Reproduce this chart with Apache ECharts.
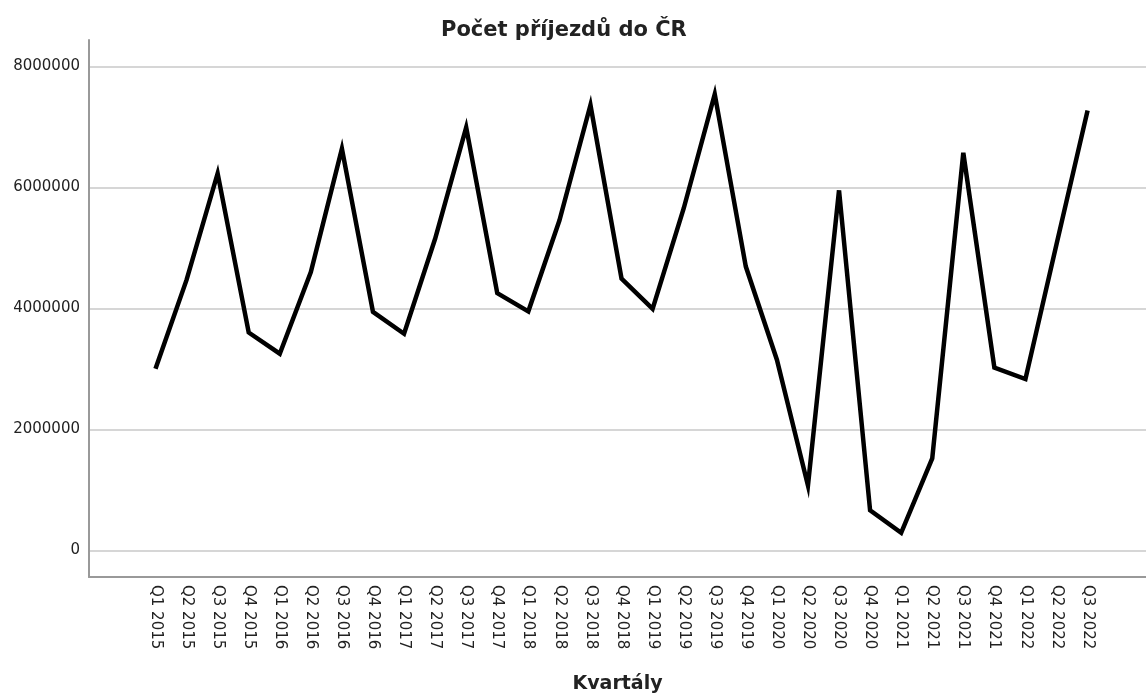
<!DOCTYPE html>
<html>
<head>
<meta charset="utf-8">
<script src="https://cdn.jsdelivr.net/npm/echarts@6/dist/echarts.min.js"></script>
<style>html,body{margin:0;padding:0;background:#fff}#c{width:1146px;height:693px}</style>
</head>
<body>
<div id="c"></div>
<script>
const categories = ['Q1 2015','Q2 2015','Q3 2015','Q4 2015','Q1 2016','Q2 2016','Q3 2016','Q4 2016','Q1 2017','Q2 2017','Q3 2017','Q4 2017','Q1 2018','Q2 2018','Q3 2018','Q4 2018','Q1 2019','Q2 2019','Q3 2019','Q4 2019','Q1 2020','Q2 2020','Q3 2020','Q4 2020','Q1 2021','Q2 2021','Q3 2021','Q4 2021','Q1 2022','Q2 2022','Q3 2022'];
const arrivals = [3000000,4470000,6230000,3600000,3250000,4600000,6640000,3940000,3580000,5150000,6990000,4250000,3950000,5450000,7360000,4490000,3990000,5650000,7540000,4690000,3150000,1070000,5950000,660000,290000,1520000,6570000,3020000,2830000,5060000,7270000];
const yTicks = [0,2000000,4000000,6000000,8000000];
const titleText = 'Počet příjezdů do ČR';
const xName = 'Kvartály';

const chart = echarts.init(document.getElementById('c'), null, {renderer:'canvas'});
const xIdx = categories.map((c,i)=>i);
chart.setOption({
  animation:false,
  title:{text:titleText,left:436,top:15,textStyle:{fontFamily:'DejaVu Sans',fontWeight:'bold',fontSize:21,color:'#222'}},
  grid:{left:89,right:0,top:40,bottom:116,containLabel:false,outerBoundsMode:'none'},
  xAxis:{
    type:'value',min:-2.14,max:31.88,
    name:xName,nameLocation:'middle',nameGap:98,
    nameTextStyle:{fontFamily:'DejaVu Sans',fontWeight:'bold',fontSize:19,color:'#222'},
    axisLine:{show:true,onZero:false,lineStyle:{color:'#999',width:2}},
    axisTick:{show:false,customValues:xIdx},
    splitLine:{show:false},
    axisLabel:{customValues:xIdx,rotate:-90,margin:8,fontFamily:'DejaVu Sans',fontSize:15,color:'#222',
      formatter:(v)=>categories[Math.round(v)]}
  },
  yAxis:{
    type:'value',min:-441000,max:8435000,
    axisLine:{show:true,onZero:false,lineStyle:{color:'#999',width:2}},
    axisTick:{show:false,customValues:yTicks},
    axisLabel:{customValues:yTicks,margin:9,fontFamily:'DejaVu Sans',fontSize:15,color:'#222',
      formatter:(v)=>String(v)},
    splitLine:{show:true,lineStyle:{color:'#c8c8c8',width:1.5}}
  },
  series:[{
    type:'line',
    data:arrivals.map((v,i)=>[i,v]),
    showSymbol:false,symbol:'none',
    lineStyle:{color:'#000',width:4.5,join:'miter',miterLimit:6},
    z:5
  }]
});
</script>
</body>
</html>
